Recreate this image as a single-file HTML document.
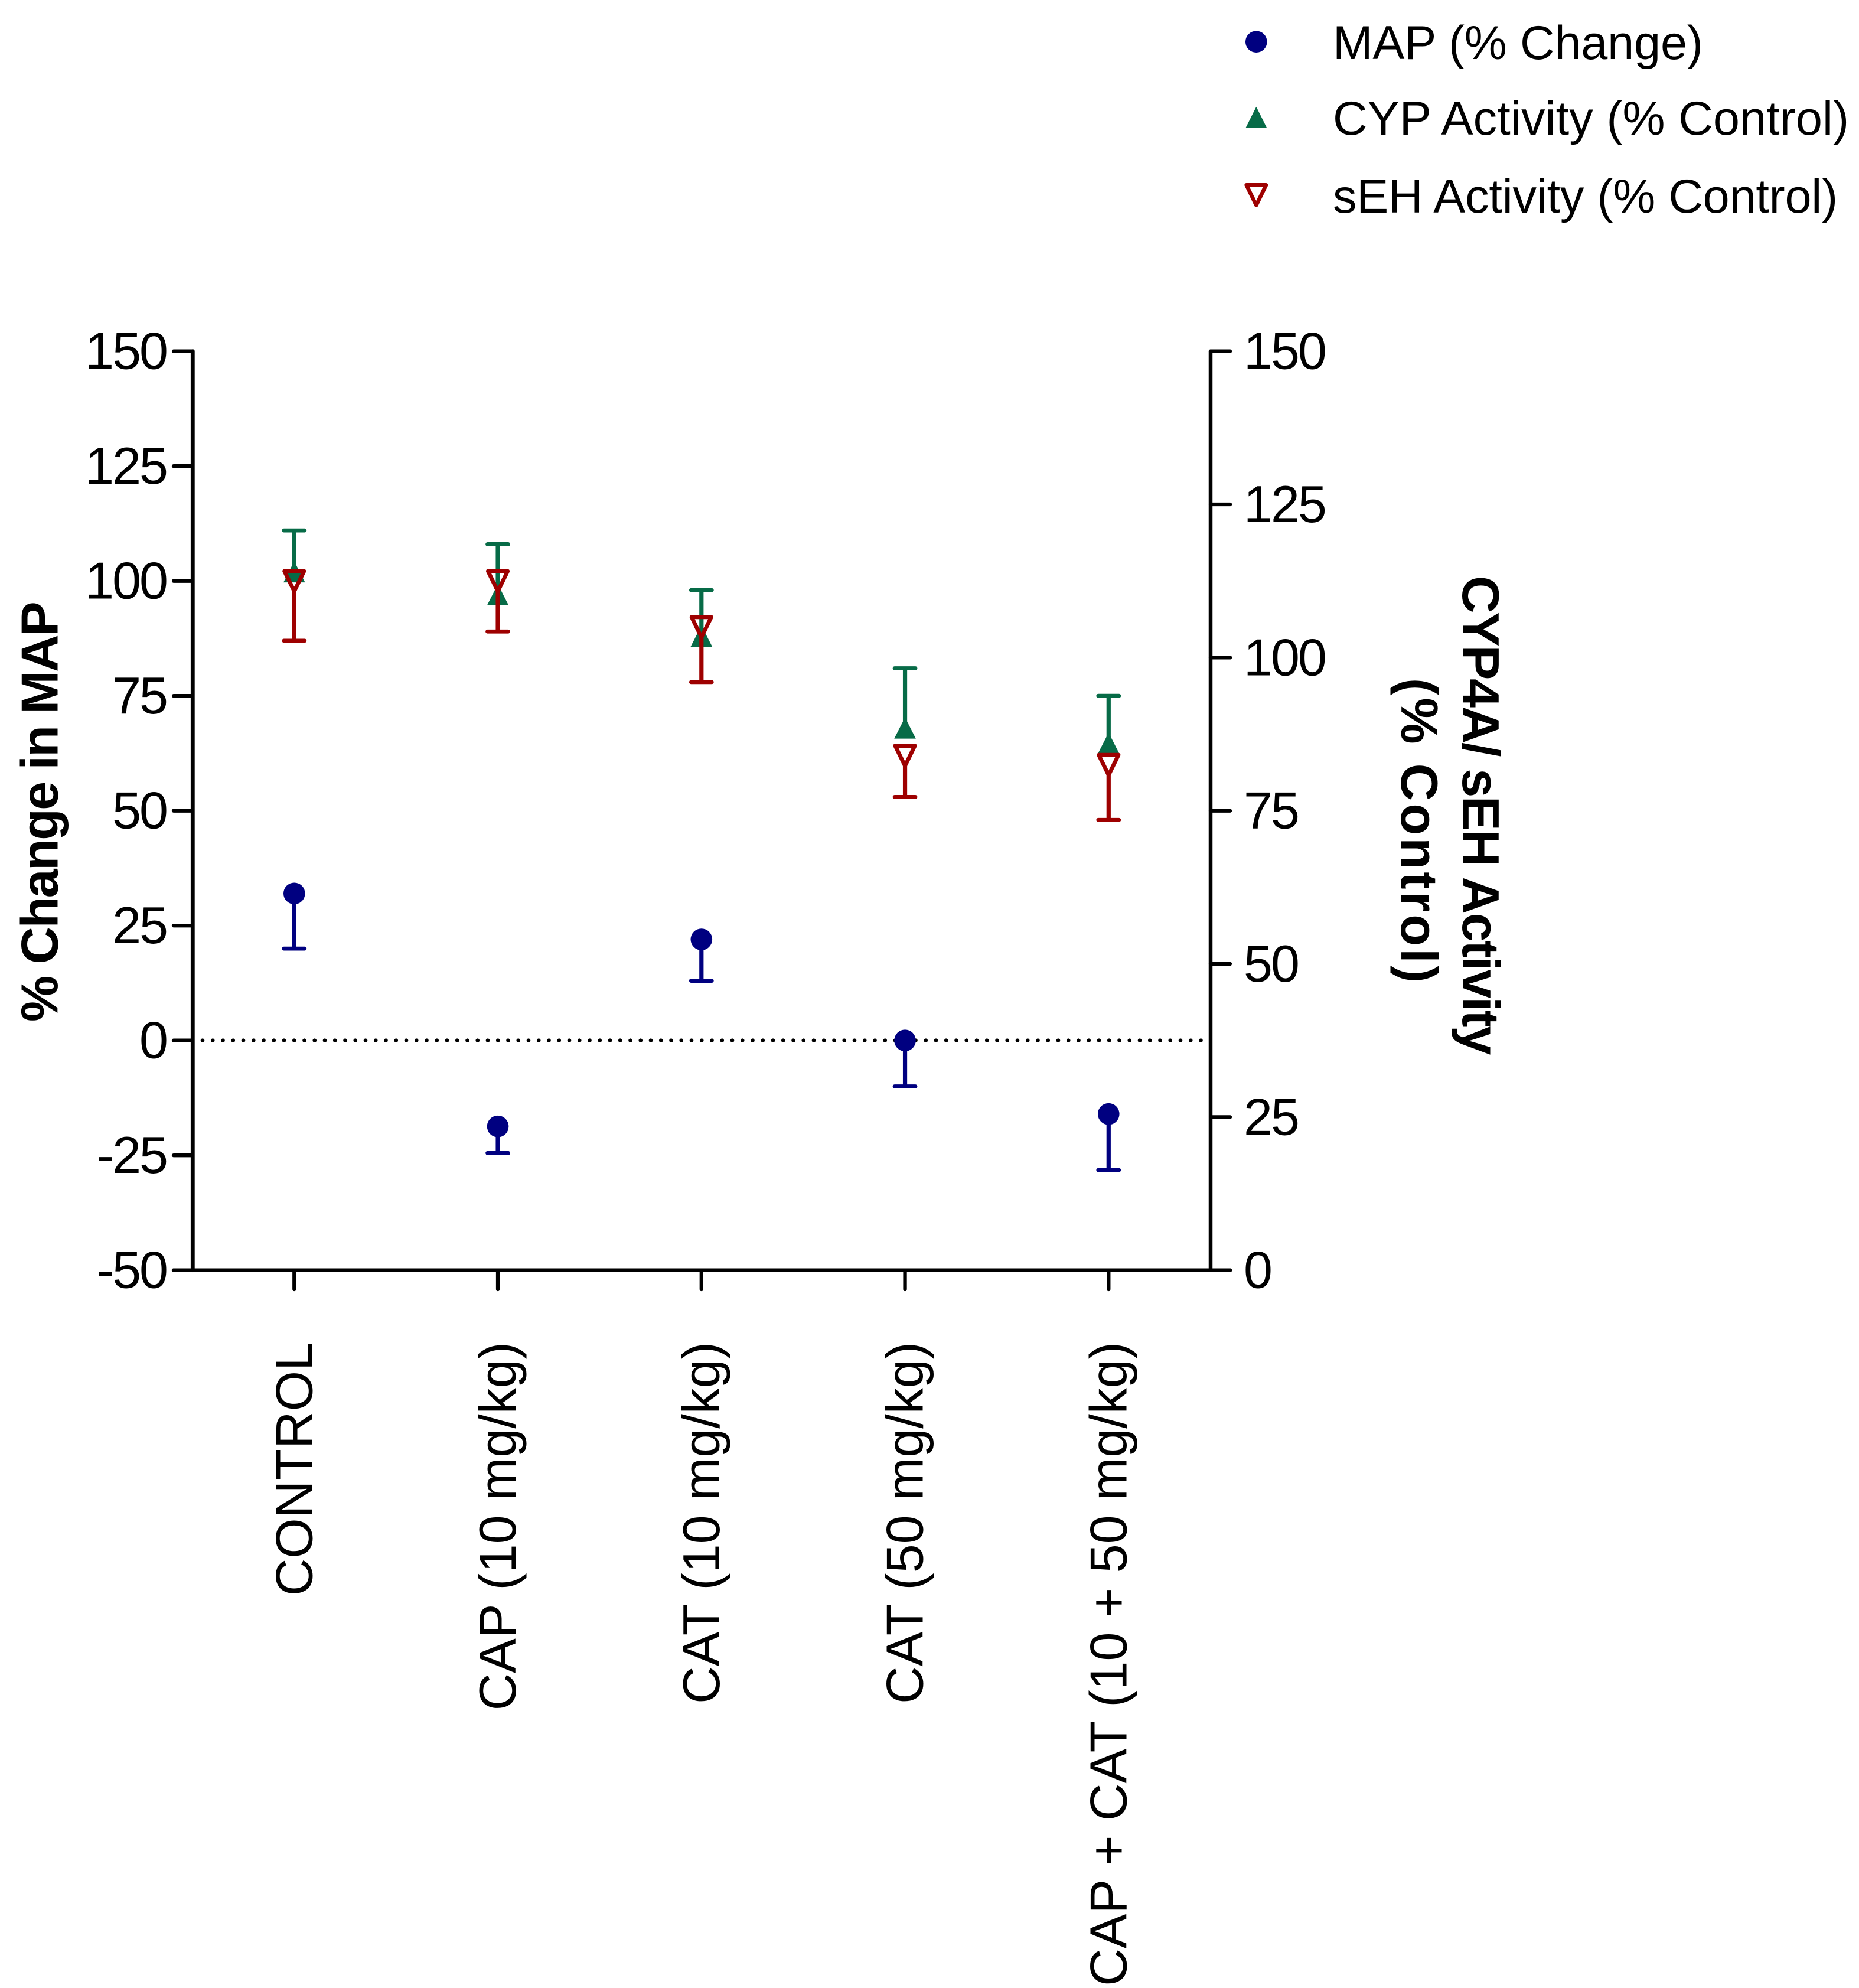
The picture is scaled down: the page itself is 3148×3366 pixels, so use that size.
<!DOCTYPE html>
<html lang="en">
<head>
<meta charset="utf-8">
<title>MAP, CYP and sEH activity chart</title>
<style>
html,body{margin:0;padding:0;background:#fff;}
svg{display:block;}
text{font-family:"Liberation Sans",Arial,sans-serif;fill:#000;}
.tick{font-size:88px;letter-spacing:-3px;}
.cat{font-size:88px;}
.title{font-size:88px;font-weight:bold;}
.leg{font-size:81px;}
</style>
</head>
<body>
<svg id="chart" xmlns="http://www.w3.org/2000/svg" width="3148" height="3366" viewBox="0 0 3148 3366">
  <rect x="0" y="0" width="3148" height="3366" fill="#ffffff"/>
  <g id="axes"></g>
  <g id="marks"></g>
  <text class="title" style="letter-spacing:-2.6px" transform="translate(97.5 1730) rotate(-90)">% Change in MAP</text>
  <text class="title" style="letter-spacing:-2.3px" transform="translate(2477 975) rotate(90)">CYP4A/ sEH Activity</text>
  <text class="title" style="letter-spacing:4.2px" transform="translate(2373 1148) rotate(90)">(% Control)</text>
  <g>
    <g>
      <circle cx="2127.3" cy="70.7" r="18.3" fill="#000080"/>
      <text class="leg" style="letter-spacing:-0.15px" x="2257" y="100">MAP (% Change)</text>
    </g>
    <g>
      <path d="M2127.3 180.7L2145.3 216.7L2109.3 216.7Z" fill="#076b47"/>
      <text class="leg" style="letter-spacing:0.1px" x="2257" y="228">CYP Activity (% Control)</text>
    </g>
    <g>
      <path d="M2110.6 313.3L2144 313.3L2127.3 347.4Z" fill="none" stroke="#9e0000" stroke-width="6.6" stroke-linejoin="round"/>
      <text class="leg" style="letter-spacing:-0.2px" x="2257" y="360">sEH Activity (% Control)</text>
    </g>
  </g>
</svg>
<script>
const categories = ["CONTROL", "CAP (10 mg/kg)", "CAT (10 mg/kg)", "CAT (50 mg/kg)", "CAP + CAT (10 + 50 mg/kg)"];
const leftTicks = [150, 125, 100, 75, 50, 25, 0, -25, -50];
const rightTicks = [150, 125, 100, 75, 50, 25, 0];
const mapValues = [32, -18.7, 22, 0, -16];
const mapLower = [20, -24.5, 13, -10, -28.2];
const cypValues = [102, 97, 88, 68, 64.7];
const cypUpper = [111, 108, 98, 81, 75];
const sehValues = [100, 100, 90, 62, 60];
const sehLower = [87, 89, 78, 53, 48];

const NS = "http://www.w3.org/2000/svg";
const axesLayer = document.getElementById("axes");
const marksLayer = document.getElementById("marks");
const BLACK = "#000000", BLUE = "#000080", GREEN = "#076b47", RED = "#9e0000";

const plotTop = 594.7, plotBottom = 2150.7, leftX = 326.3, rightX = 2050;
const firstCatX = 498.3, catStep = 344.75;

function yLeft(v) { return plotBottom - (v + 50) * (plotBottom - plotTop) / 200; }
function yRight(v) { return plotBottom - v * (plotBottom - plotTop) / 150; }
function xCat(i) { return firstCatX + i * catStep; }

function make(tag, parent, props) {
  const el = document.createElementNS(NS, tag);
  for (const k in props) el.setAttribute(k, props[k]);
  parent.appendChild(el);
  return el;
}
function seg(parent, x1, y1, x2, y2, color, width) {
  return make("line", parent, {x1: x1, y1: y1, x2: x2, y2: y2, stroke: color, "stroke-width": width, "stroke-linecap": "round"});
}

// axis lines
const leftAxis = seg(axesLayer, leftX, plotTop, leftX, plotBottom, BLACK, 6.8);


const rightAxis = seg(axesLayer, rightX, plotTop, rightX, plotBottom, BLACK, 6.5);


const xAxis = seg(axesLayer, 294, plotBottom, 2083, plotBottom, BLACK, 6.5);



// left ticks
leftTicks.forEach(function (v) {
  const y = yLeft(v);
  const t = seg(axesLayer, 294, y, leftX, y, BLACK, 6.3);
  
  
  const label = make("text", axesLayer, {class: "tick", x: 282, y: y + 30, "text-anchor": "end"});
  label.textContent = String(v);
  
  
});

// right ticks
rightTicks.forEach(function (v) {
  const y = yRight(v);
  const t = seg(axesLayer, rightX, y, 2083, y, BLACK, 6.3);
  
  
  const label = make("text", axesLayer, {class: "tick", x: 2106, y: y + 30});
  label.textContent = String(v);
  
  
});

// category ticks and labels
categories.forEach(function (c, i) {
  const x = xCat(i);
  const t = seg(axesLayer, x, plotBottom, x, 2183, BLACK, 6.3);
  
  
  const label = make("text", axesLayer, {class: "cat", "text-anchor": "end", transform: "translate(" + (x + 30) + " 2272) rotate(-90)"});
  label.textContent = c;
  
  
});

// zero reference line
const zeroLine = make("line", axesLayer, {x1: 343, y1: yLeft(0), x2: 2040, y2: yLeft(0), stroke: BLACK, "stroke-width": 6.6, "stroke-linecap": "round", "stroke-dasharray": "0 17.25"});



function errorBar(parent, i, fromY, toY, color) {
  const x = xCat(i);
  const stem = seg(parent, x, fromY, x, toY, color, 7.2);
  stem.setAttribute('stroke-linecap', 'butt');
  
  
  const cap = seg(parent, x - 17.5, toY, x + 17.5, toY, color, 6.8);
  
  
}

// MAP series
const mapGroup = make("g", marksLayer, {});


mapValues.forEach(function (v, i) {
  errorBar(mapGroup, i, yLeft(v), yLeft(mapLower[i]), BLUE);
  const dot = make("circle", mapGroup, {cx: xCat(i), cy: yLeft(v), r: 18.3, fill: BLUE});
  
  
});

// CYP series
const cypGroup = make("g", marksLayer, {});


cypValues.forEach(function (v, i) {
  const x = xCat(i), y = yLeft(v);
  errorBar(cypGroup, i, y, yLeft(cypUpper[i]), GREEN);
  const tri = make("path", cypGroup, {d: "M" + x + " " + (y - 18) + "L" + (x + 18.3) + " " + (y + 18) + "L" + (x - 18.3) + " " + (y + 18) + "Z", fill: GREEN});
  
  
});

// sEH series
const sehGroup = make("g", marksLayer, {});


sehValues.forEach(function (v, i) {
  const x = xCat(i), y = yLeft(v);
  errorBar(sehGroup, i, y + 17, yLeft(sehLower[i]), RED);
  const tri = make("path", sehGroup, {d: "M" + (x - 16.7) + " " + (y - 16.7) + "L" + (x + 16.7) + " " + (y - 16.7) + "L" + x + " " + (y + 17.4) + "Z", fill: "none", stroke: RED, "stroke-width": 6.8, "stroke-linejoin": "round"});
  
  
});
</script>
</body>
</html>
